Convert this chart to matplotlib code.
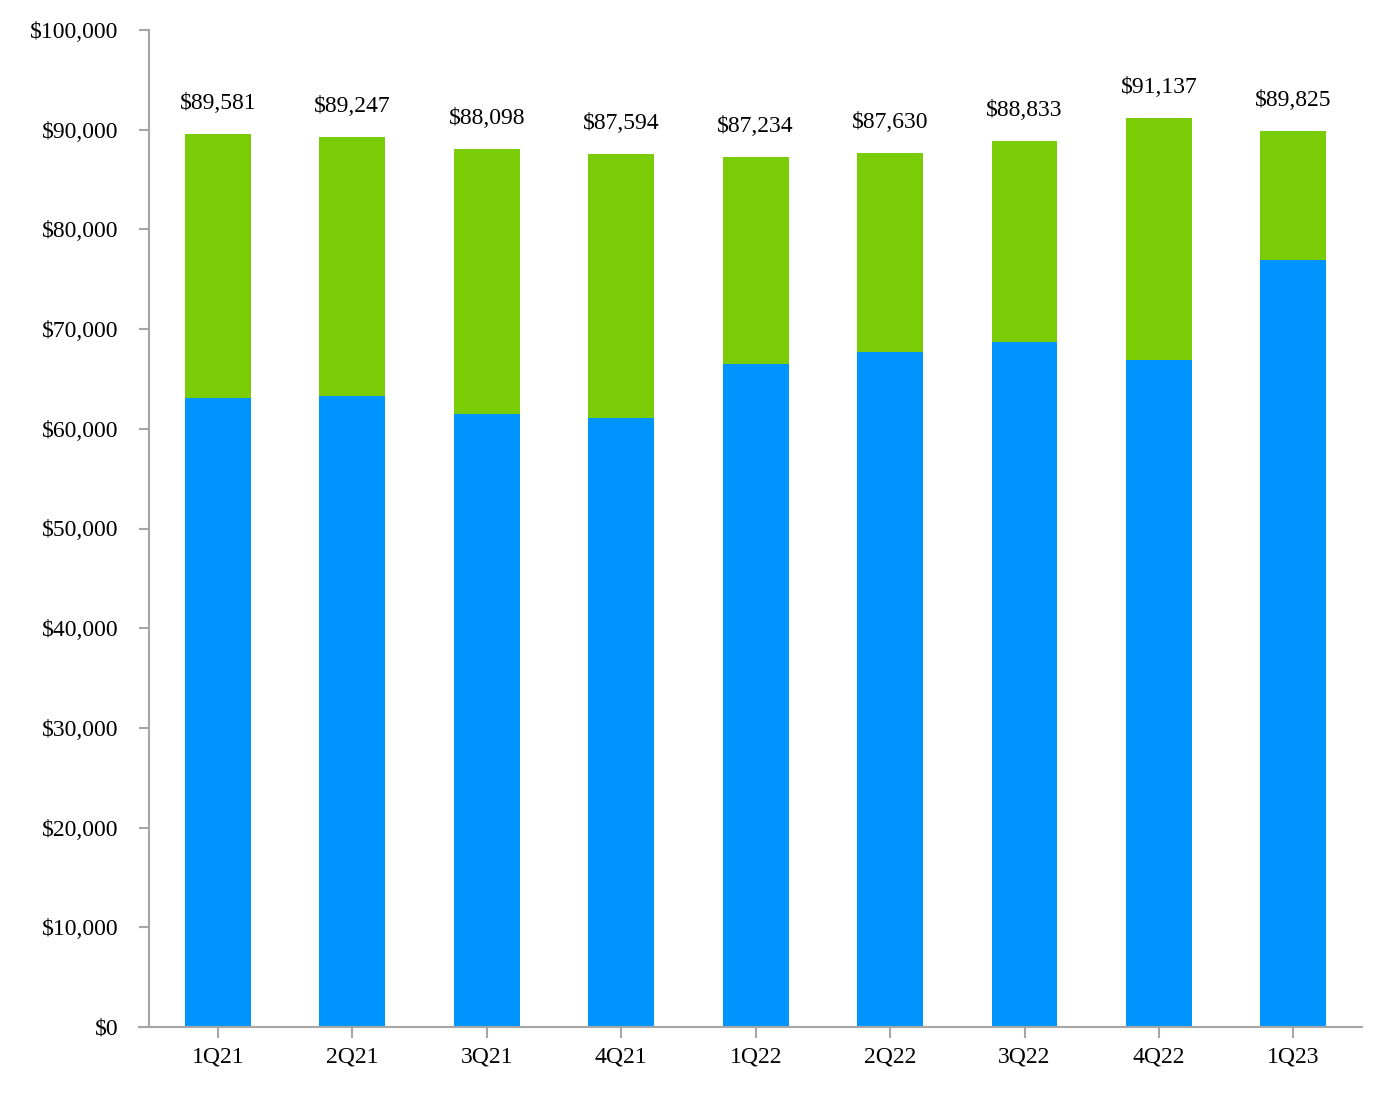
import matplotlib.pyplot as plt
from matplotlib.ticker import FuncFormatter

quarters = ["1Q21", "2Q21", "3Q21", "4Q21", "1Q22", "2Q22", "3Q22", "4Q22", "1Q23"]
totals = [89581, 89247, 88098, 87594, 87234, 87630, 88833, 91137, 89825]
# lower (blue) segment
blue_vals = [63100, 63300, 61500, 61100, 66500, 67700, 68700, 66900, 76900]
green_vals = [t - b for t, b in zip(totals, blue_vals)]

BLUE = "#0094FF"
GREEN = "#7ACC06"
GREY = "#A6A6A6"

plt.rcParams["font.family"] = ["Liberation Serif", "DejaVu Serif"]

fig = plt.figure(figsize=(13.92, 11), dpi=100)
ax = fig.add_axes([139 / 1392, 1 - 1027 / 1100, (1362 - 139) / 1392, (1027 - 30) / 1100])

x = list(range(len(quarters)))
ax.bar(x, blue_vals, width=0.49, color=BLUE)
ax.bar(x, green_vals, width=0.49, bottom=blue_vals, color=GREEN)

for xi, t in zip(x, totals):
    ax.annotate(f"${t:,}", (xi, t), xytext=(0, 18), textcoords="offset points",
                ha="center", va="baseline", fontsize=17)

ax.set_xlim(-0.587, 8.51)
ax.set_ylim(0, 100000)
ax.set_yticks(range(0, 100001, 10000))
ax.yaxis.set_major_formatter(FuncFormatter(lambda v, p: f"${int(v):,}"))
ax.set_xticks(x)
ax.set_xticklabels(quarters)

for s in ["top", "right"]:
    ax.spines[s].set_visible(False)
for s in ["left", "bottom"]:
    ax.spines[s].set_color(GREY)
    ax.spines[s].set_linewidth(1.5)
ax.spines["left"].set_position(("data", -0.513))

ax.tick_params(axis="y", length=7.2, width=1.5, color=GREY, pad=15, labelsize=17)
ax.tick_params(axis="x", length=8, width=1.5, color=GREY, pad=6, labelsize=17)

fig.savefig("out.png", dpi=100)
